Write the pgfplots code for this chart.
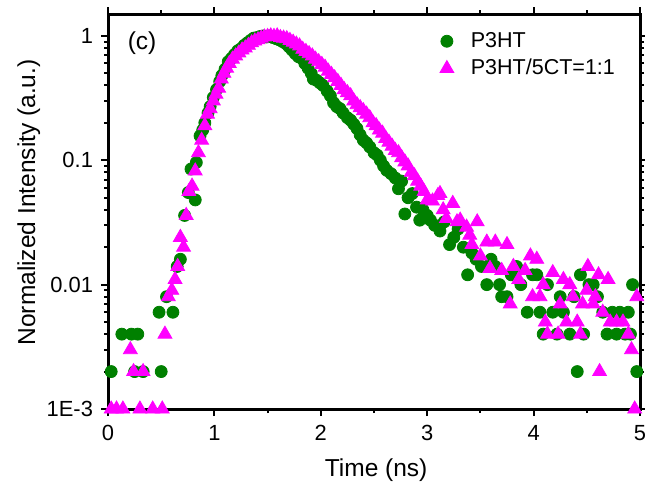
\documentclass[border=0pt]{standalone}
\usepackage{pgfplots}
\pgfplotsset{compat=1.18}
\usepackage{fontspec}
\setmainfont{Liberation Sans}
\definecolor{pgreen}{RGB}{0,128,0}
\definecolor{pmag}{RGB}{255,0,255}

\begin{document}
\begin{tikzpicture}
\begin{axis}[
  name=ax,
  scale only axis,
  width=266bp, height=197.5bp,
  ymode=log,
  xmin=0, xmax=5,
  ymin=0.001, ymax=1.5,
  xtick={0,1,2,3,4,5},
  minor x tick num=1,
  ytick={0.001,0.01,0.1,1},
  yticklabels={1E-3,0.01,0.1,1},
  tick align=outside,
  major tick length=3.5bp,
  minor tick length=2bp,
  axis line style={line width=1.5bp},
  every tick/.style={line width=1bp, black},
  /pgf/number format/assume math mode=true,
  tick label style={font=\fontsize{11}{13}\selectfont},
  xticklabel style={yshift=-1bp},
  yticklabel style={xshift=-0.5bp},
  xlabel={Time (ns)},
  ylabel={Normalized Intensity (a.u.)},
  label style={font=\fontsize{12.3}{14}\selectfont},
  xlabel style={at={(axis description cs:0.504,0)}, anchor=base, yshift=-33.5bp},
  ylabel style={at={(axis description cs:-0.137,0.523)}, anchor=base, rotate=0},
  legend style={draw=none, fill=none, at={(axis description cs:0.612,0.975)}, anchor=north west,
    font=\fontsize{10.8}{12}\selectfont, row sep=0.5bp,
    /tikz/every odd column/.append style={column sep=6.5bp}},
  legend cell align=left,
  clip=false,
]
\addplot[only marks, mark=*, mark size=3bp, color=pgreen, mark options={fill=pgreen, draw=pgreen}]
coordinates {
(0.03,0.002)(0.13,0.004)(0.22,0.004)(0.25,0.002)(0.28,0.004)(0.33,0.002)
(0.48,0.006)(0.50,0.002)(0.55,0.008)(0.61,0.006)(0.65,0.014)(0.68,0.016)
(0.72,0.036)(0.755,0.055)(0.78,0.085)(0.82,0.048)(0.83,0.096)(0.865,0.157)
(0.89,0.175)(0.91,0.20)(0.94,0.24)(0.96,0.27)(0.99,0.32)(1.02,0.37)
(1.05,0.43)(1.07,0.48)(1.10,0.54)(1.13,0.62)(1.16,0.66)(1.19,0.71)
(1.22,0.76)(1.25,0.79)(1.28,0.84)(1.31,0.88)(1.34,0.92)(1.37,0.96)
(1.40,0.97)(1.43,0.99)(1.46,1.00)(1.49,0.98)(1.52,1.00)(1.55,0.97)
(1.58,0.95)(1.61,0.93)(1.64,0.90)(1.67,0.87)(1.70,0.82)(1.73,0.77)
(1.76,0.72)(1.79,0.68)(1.82,0.66)(1.85,0.60)(1.88,0.55)(1.91,0.50)
(1.93,0.45)(1.96,0.44)(1.99,0.42)(2.02,0.40)(2.06,0.36)(2.09,0.33)
(2.12,0.29)(2.15,0.27)(2.18,0.26)(2.21,0.24)(2.25,0.22)(2.28,0.21)
(2.31,0.195)(2.34,0.18)(2.37,0.16)(2.40,0.145)(2.43,0.138)(2.46,0.128)
(2.50,0.115)(2.53,0.11)(2.56,0.10)(2.59,0.09)(2.62,0.083)(2.66,0.078)
(2.70,0.072)(2.73,0.059)(2.76,0.068)(2.79,0.037)(2.82,0.05)(2.86,0.054)
(2.90,0.042)(2.93,0.033)(2.96,0.040)(3.00,0.036)(3.03,0.033)(3.07,0.030)
(3.12,0.027)(3.16,0.032)(3.21,0.021)(3.25,0.024)(3.29,0.028)(3.34,0.020)
(3.38,0.012)(3.42,0.018)(3.46,0.016)(3.51,0.014)(3.56,0.010)(3.60,0.016)
(3.64,0.014)(3.68,0.010)(3.70,0.008)(3.75,0.008)(3.79,0.012)(3.84,0.014)
(3.88,0.010)(3.94,0.006)(3.99,0.012)(4.03,0.012)(4.06,0.006)(4.09,0.004)
(4.13,0.010)(4.18,0.006)(4.22,0.004)(4.25,0.008)(4.28,0.006)(4.34,0.004)
(4.38,0.008)(4.41,0.002)(4.44,0.012)(4.47,0.004)(4.52,0.010)(4.56,0.010)
(4.60,0.008)(4.65,0.006)(4.69,0.004)(4.74,0.006)(4.78,0.004)(4.81,0.006)
(4.86,0.004)(4.89,0.006)(4.91,0.004)(4.93,0.010)(4.97,0.002)
};
\addlegendentry{P3HT}
\addplot[only marks, mark=triangle*, mark size=4bp, color=pmag, mark options={fill=pmag, draw=pmag}]
coordinates {
(0.03,0.001)(0.08,0.001)(0.14,0.001)(0.21,0.003)(0.24,0.002)(0.30,0.001)
(0.33,0.002)(0.42,0.001)(0.51,0.001)(0.535,0.004)(0.567,0.008)(0.60,0.009)
(0.63,0.011)(0.655,0.014)(0.68,0.024)(0.71,0.020)(0.735,0.036)(0.76,0.056)
(0.79,0.062)(0.82,0.082)(0.85,0.115)(0.88,0.145)(0.91,0.19)(0.935,0.235)
(0.96,0.26)(0.99,0.30)(1.015,0.34)(1.04,0.38)(1.065,0.45)(1.09,0.50)
(1.115,0.55)(1.14,0.60)(1.17,0.65)(1.20,0.69)(1.23,0.73)(1.26,0.77)
(1.29,0.80)(1.32,0.84)(1.35,0.88)(1.38,0.91)(1.41,0.93)(1.44,0.96)
(1.47,0.98)(1.50,0.99)(1.53,1.00)(1.56,0.99)(1.59,1.00)(1.62,0.97)
(1.65,0.96)(1.68,0.95)(1.71,0.92)(1.74,0.89)(1.77,0.86)(1.80,0.83)
(1.83,0.78)(1.86,0.75)(1.89,0.72)(1.92,0.69)(1.95,0.65)(1.98,0.62)
(2.01,0.59)(2.04,0.56)(2.07,0.52)(2.10,0.49)(2.13,0.46)(2.16,0.43)
(2.19,0.40)(2.22,0.37)(2.25,0.35)(2.28,0.33)(2.31,0.30)(2.34,0.28)
(2.37,0.265)(2.40,0.25)(2.43,0.235)(2.46,0.22)(2.49,0.20)(2.52,0.19)
(2.55,0.175)(2.58,0.165)(2.61,0.15)(2.64,0.14)(2.67,0.13)(2.70,0.12)
(2.73,0.115)(2.76,0.105)(2.79,0.097)(2.82,0.090)(2.85,0.080)(2.88,0.075)
(2.91,0.068)(2.94,0.062)(2.97,0.056)(3.00,0.048)(3.05,0.047)(3.10,0.052)
(3.12,0.054)(3.15,0.040)(3.18,0.034)(3.24,0.045)(3.28,0.032)(3.31,0.033)
(3.37,0.029)(3.40,0.025)(3.42,0.021)(3.47,0.032)(3.50,0.017)(3.56,0.022)
(3.59,0.0135)(3.64,0.022)(3.70,0.013)(3.75,0.021)(3.78,0.007)(3.81,0.014)
(3.86,0.011)(3.92,0.013)(3.97,0.017)(3.99,0.008)(4.03,0.016)(4.06,0.008)
(4.09,0.010)(4.11,0.005)(4.13,0.004)(4.18,0.0125)(4.23,0.004)(4.25,0.007)
(4.28,0.011)(4.31,0.005)(4.34,0.010)(4.37,0.008)(4.41,0.005)(4.44,0.004)
(4.46,0.007)(4.50,0.009)(4.51,0.014)(4.56,0.007)(4.58,0.008)(4.61,0.012)
(4.62,0.002)(4.65,0.006)(4.70,0.011)(4.72,0.005)(4.78,0.005)(4.84,0.005)
(4.89,0.004)(4.92,0.003)(4.95,0.001)(4.97,0.008)
};
\addlegendentry{P3HT/5CT=1:1}
\node[font=\fontsize{12.3}{14}\selectfont] at (rel axis cs:0.064,0.926) {(c)};
\end{axis}
\pgfresetboundingbox
\path (ax.south west) ++(-54bp,-36.5bp) coordinate (bl);
\path (ax.north east) ++(2.5bp,7bp) coordinate (tr);
\path[use as bounding box] (bl) rectangle (tr);
\end{tikzpicture}
\end{document}
